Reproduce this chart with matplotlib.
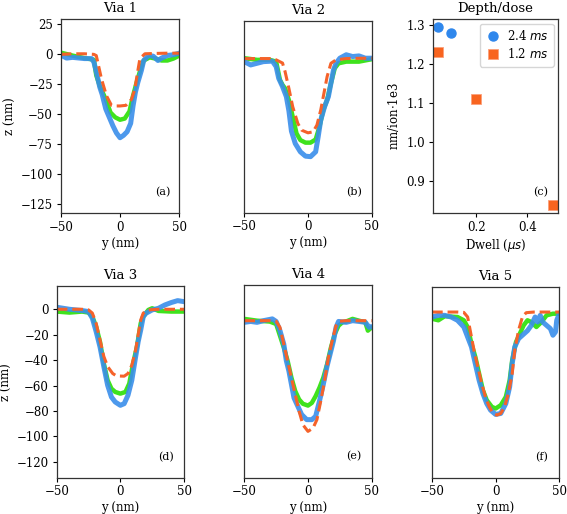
import matplotlib
matplotlib.use("Agg")
import matplotlib.pyplot as plt

plt.rcParams['font.family'] = ['DejaVu Serif']
plt.rcParams['mathtext.fontset'] = 'dejavusans'

# ---------------- data ----------------
# Via 1
v1_red_x = [-50, -40, -30, -22, -20, -15.6, -11.4, -7.2, -5, 0, 5, 9.7, 12.5, 14.8, 16.8, 21, 30, 40, 50]
v1_red_y = [-0.5, 0, 0, -0.5, -1.5, -21, -35, -43, -43.5, -43.5, -43, -38, -29.5, -15.5, -4, 0, 0.3, 0.5, 0.5]
v1_grn_x = [-50, -40, -30, -22, -20, -17, -12, -8, -4, 0, 4, 8, 11, 14, 17, 20, 25, 30, 35, 40, 45, 50]
v1_grn_y = [1, -1.5, -3.6, -5, -18, -27, -38, -49, -53, -55, -54, -48, -35, -24, -14, -5.6, -3, -4, -5.6, -5.6, -4, -1.5]
v1_blu_x = [-50, -45, -40, -30, -24, -22, -20, -17, -15, -12, -9, -6, -3, 0, 3, 6, 9, 11, 13, 15, 18, 20, 24, 28, 32, 35, 40, 45, 50]
v1_blu_y = [-1, -3.6, -3, -4, -4, -7, -15, -28, -34, -46, -53, -60, -66, -70, -68, -65, -58, -43.5, -32, -24, -14, -5.6, -1.4, -2, -5.6, -3.6, -1.4, -0.8, 0.5]

# Via 2
v2_red_x = [-50, -40, -30, -25, -20, -18, -15, -12, -8, -5, 0, 4, 7, 10, 13, 15, 18, 22, 30, 40, 50]
v2_red_y = [-11, -11, -11, -12, -14.5, -21.2, -34.4, -48.8, -61.9, -67.2, -69.3, -68.5, -63.2, -51.4, -35.7, -25.2, -14.7, -12, -11, -10.8, -10.7]
v2_grn_x = [-50, -40, -30, -25, -22, -20, -18, -15, -12, -9, -6, -2, 2, 6, 9, 12, 15, 18, 21, 24, 30, 40, 50]
v2_grn_y = [-10.7, -12, -12, -13.4, -27.8, -31.7, -34.4, -43.5, -56.7, -69.8, -75, -77, -77, -74.5, -64.5, -51.4, -43.5, -30.4, -18.6, -14.7, -13.4, -13.4, -11.5]
v2_blu_x = [-50, -45, -40, -35, -28, -25, -23, -20, -17, -15, -13, -10, -6, -2, 2, 6, 8, 10, 13, 16, 18, 20, 22, 25, 30, 35, 40, 45, 50]
v2_blu_y = [-13.4, -16, -14.7, -13.4, -13, -17.3, -26.5, -33, -40.9, -52, -68, -77.7, -84.2, -87.6, -88, -84.2, -72.3, -59.3, -48.8, -40.9, -30.4, -20, -14.7, -10.7, -8, -9.4, -8.9, -10.7, -10.7]

# Via 3
v3_red_x = [-50, -40, -30, -25, -22, -19, -16, -13, -10, -6, -3, 3, 6, 9, 12, 14, 16, 18, 22, 30, 40, 50]
v3_red_y = [0, 0, 0, -0.5, -3, -11, -24, -37, -45, -50.5, -52.4, -52.6, -50.5, -44, -32, -20, -8.4, -3, -0.5, 0, 0, 0]
v3_grn_x = [-50, -40, -30, -25, -22, -19, -16, -13, -10, -7, -4, 0, 4, 7, 10, 13, 16, 18, 22, 25, 30, 40, 50]
v3_grn_y = [-1.8, -2.6, -1.8, -2.6, -5.8, -13.7, -25.5, -42.6, -55.8, -62.4, -65, -66.3, -65, -58.4, -42.6, -29.5, -11, -5.8, -0.5, 0.8, -1.3, -1.8, -1.8]
v3_blu_x = [-50, -45, -40, -30, -25, -22, -19, -16, -13, -10, -7, -4, 0, 3, 6, 9, 12, 14, 16, 18, 20, 25, 30, 35, 40, 45, 50]
v3_blu_y = [1.6, 0.8, 0, -1, -1.8, -7, -17.6, -29.5, -45, -59.7, -69, -72.9, -75.5, -74.2, -67.6, -55.8, -37.4, -25.5, -16.3, -5.8, -3.2, -0.5, 0.8, 3.4, 5.3, 6.8, 6]

# Via 4
v4_red_x = [-50, -40, -30, -25, -22, -19, -16, -13, -10, -7, -4, 0, 4, 7, 10, 13, 16, 19, 22, 25, 30, 40, 50]
v4_red_y = [-9.6, -9.6, -9.6, -10, -14.8, -28, -41, -54.2, -67.3, -80.4, -91, -96.2, -93.5, -87, -72.5, -56.8, -38.4, -25.3, -13.5, -10, -9.6, -9.6, -9.6]
v4_grn_x = [-50, -40, -30, -25, -22, -19, -16, -13, -10, -7, -4, 0, 3, 6, 9, 12, 15, 18, 21, 24, 27, 30, 35, 40, 45, 47, 50]
v4_grn_y = [-8.2, -9.6, -10.3, -12.2, -21.4, -30.6, -41, -54.2, -64.7, -71.2, -74.6, -76, -73.9, -68.6, -62, -54.2, -43.7, -30.6, -20, -13.5, -10.9, -10.2, -8.2, -9.6, -10.9, -17.4, -14.8]
v4_blu_x = [-50, -45, -40, -35, -28, -25, -22, -19, -17, -15, -13, -11, -8, -5, -1, 3, 6, 9, 12, 15, 18, 20, 22, 24, 30, 35, 40, 45, 48, 50]
v4_blu_y = [-10.9, -10.2, -10.9, -9.6, -8.2, -10.2, -17.4, -28, -41, -49, -59.4, -70, -76.5, -83, -87, -87, -84.4, -72.5, -59.4, -45, -33.2, -25.3, -14.8, -10.2, -10.9, -9.6, -10.2, -10.9, -14.8, -14.3]

# Via 5
v5_red_x = [-50, -40, -30, -25, -22, -20, -17, -14, -11, -8, -5, -2, 1, 4, 7, 10, 13, 15, 18, 21, 24, 30, 40, 50]
v5_red_y = [-1.7, -1.7, -1.7, -2, -5.6, -16.1, -31.9, -45, -58, -68.6, -76.5, -81.7, -83, -81.7, -76.5, -66, -50.2, -31.9, -16.1, -5.6, -2.2, -1.7, -1.7, -1.7]
v5_grn_x = [-50, -45, -40, -30, -25, -22, -19, -16, -13, -10, -7, -3, 0, 4, 8, 11, 13, 16, 19, 22, 25, 28, 32, 36, 40, 45, 50]
v5_grn_y = [-7, -8.2, -5, -5.6, -8.2, -13.5, -26.6, -37, -50.2, -63.4, -71.2, -76.5, -77.8, -75.2, -68.6, -55.5, -39.7, -25.3, -18.7, -12.2, -8.2, -9.6, -13.5, -9.6, -4.3, -3, -3]
v5_blu_x = [-50, -45, -40, -35, -30, -25, -22, -19, -16, -13, -10, -7, -4, 0, 4, 8, 11, 13, 15, 18, 21, 25, 28, 31, 33, 35, 37, 40, 43, 45, 47, 48, 50]
v5_blu_y = [-5.6, -4.3, -4.3, -5.6, -8.2, -13.5, -21.4, -29.2, -42.4, -55.5, -66, -73.9, -79.1, -82.5, -81.7, -73.9, -60.7, -42.4, -29.2, -22.7, -20, -16.4, -12.2, -5.6, -9.6, -4.3, -9.6, -12.2, -14.8, -20, -17.4, -8.2, -3]

# Depth/dose
dwell_24 = [0.05, 0.1]
rate_24 = [1.294, 1.279]
dwell_12 = [0.05, 0.2, 0.5]
rate_12 = [1.230, 1.110, 0.8396]
legend_labels = ['2.4 $ms$', '1.2 $ms$']

titles = ['Via 1', 'Via 2', 'Via 3', 'Via 4', 'Via 5']
panel_tags = ['(a)', '(b)', '(d)', '(e)', '(f)']

vias = [
    (v1_grn_x, v1_grn_y, v1_blu_x, v1_blu_y, v1_red_x, v1_red_y),
    (v2_grn_x, v2_grn_y, v2_blu_x, v2_blu_y, v2_red_x, v2_red_y),
    (v3_grn_x, v3_grn_y, v3_blu_x, v3_blu_y, v3_red_x, v3_red_y),
    (v4_grn_x, v4_grn_y, v4_blu_x, v4_blu_y, v4_red_x, v4_red_y),
    (v5_grn_x, v5_grn_y, v5_blu_x, v5_blu_y, v5_red_x, v5_red_y),
]

# ---------------- layout ----------------
W, H = 567, 514
fig = plt.figure(figsize=(W / 100, H / 100), dpi=100)

def box(l, t, r, b):
    return [l / W, 1 - b / H, (r - l) / W, (b - t) / H]

boxes = [box(60.7, 19, 179.3, 213.3), box(244.3, 21, 371.7, 212.7),
         box(56.7, 286, 184, 477.7), box(244.3, 285, 371.7, 477.7),
         box(432, 286.7, 559.3, 477.7)]
ylims = [(-133, 29), (-132, 18.5), (-132.4, 18.3), (-132.4, 18.3), (-132.4, 18.3)]

GREEN = '#3fe21d'
BLUE = '#3a8eea'
RED = '#f5622a'

TFS = 9.5   # titles
LFS = 8.5   # axis labels
KFS = 8.5   # tick labels
AFS = 8     # panel tags

def style(ax):
    ax.tick_params(labelsize=KFS, length=3, width=0.8, pad=2.5)
    for s in ax.spines.values():
        s.set_linewidth(0.9)
        s.set_color('#333333')

for i, (gx, gy, bx, by, rx, ry) in enumerate(vias):
    ax = fig.add_axes(boxes[i])
    ax.plot(gx, gy, color=GREEN, lw=3.2, solid_capstyle='round', solid_joinstyle='round')
    ax.plot(bx, by, color=BLUE, lw=3.6, alpha=0.9, solid_capstyle='round', solid_joinstyle='round')
    ax.plot(rx, ry, color=RED, lw=2.2, ls='--', dashes=(3.5, 1.6))
    ax.set_xlim(-50, 50)
    ax.set_ylim(*ylims[i])
    ax.set_title(titles[i], fontsize=TFS, pad=5)
    ax.set_xlabel('y (nm)', fontsize=LFS, labelpad=2)
    ax.set_xticks([-50, 0, 50])
    style(ax)
    if i == 0:
        ax.set_yticks([-125, -100, -75, -50, -25, 0, 25])
        ax.set_ylabel('z (nm)', fontsize=LFS, labelpad=3)
    elif i == 2:
        ax.set_yticks([-120, -100, -80, -60, -40, -20, 0])
        ax.set_ylabel('z (nm)', fontsize=LFS, labelpad=3)
    else:
        ax.set_yticks([])
    ax.text(0.86, 0.11, panel_tags[i], transform=ax.transAxes, fontsize=AFS,
            ha='center', va='center')

# Depth/dose panel
axc = fig.add_axes(box(432.7, 19.3, 558.3, 213.3))
axc.plot(dwell_24, rate_24, 'o', color='#2f87ec', ms=6.5, mec='#2f87ec', label=legend_labels[0], ls='none')
axc.plot(dwell_12, rate_12, 's', color='#f8641f', ms=6.5, mec='#fca07a', mew=0.6, label=legend_labels[1], ls='none')
axc.set_xlim(0.0275, 0.5225)
axc.set_ylim(0.8176, 1.3145)
axc.set_xticks([0.2, 0.4])
axc.set_yticks([0.9, 1.0, 1.1, 1.2, 1.3])
style(axc)
axc.set_title('Depth/dose', fontsize=TFS, pad=5)
axc.set_xlabel('Dwell ($\\mu s$)', fontsize=LFS, labelpad=2)
axc.set_ylabel('nm/ion$\\cdot$1e3', fontsize=LFS, labelpad=4)
axc.legend(loc='upper right', fontsize=KFS, handletextpad=0.5, borderpad=0.45,
           labelspacing=0.35, handlelength=1.3, borderaxespad=0.4)
axc.text(0.86, 0.11, '(c)', transform=axc.transAxes, fontsize=AFS, ha='center', va='center')

fig.savefig('out.png', dpi=100)
